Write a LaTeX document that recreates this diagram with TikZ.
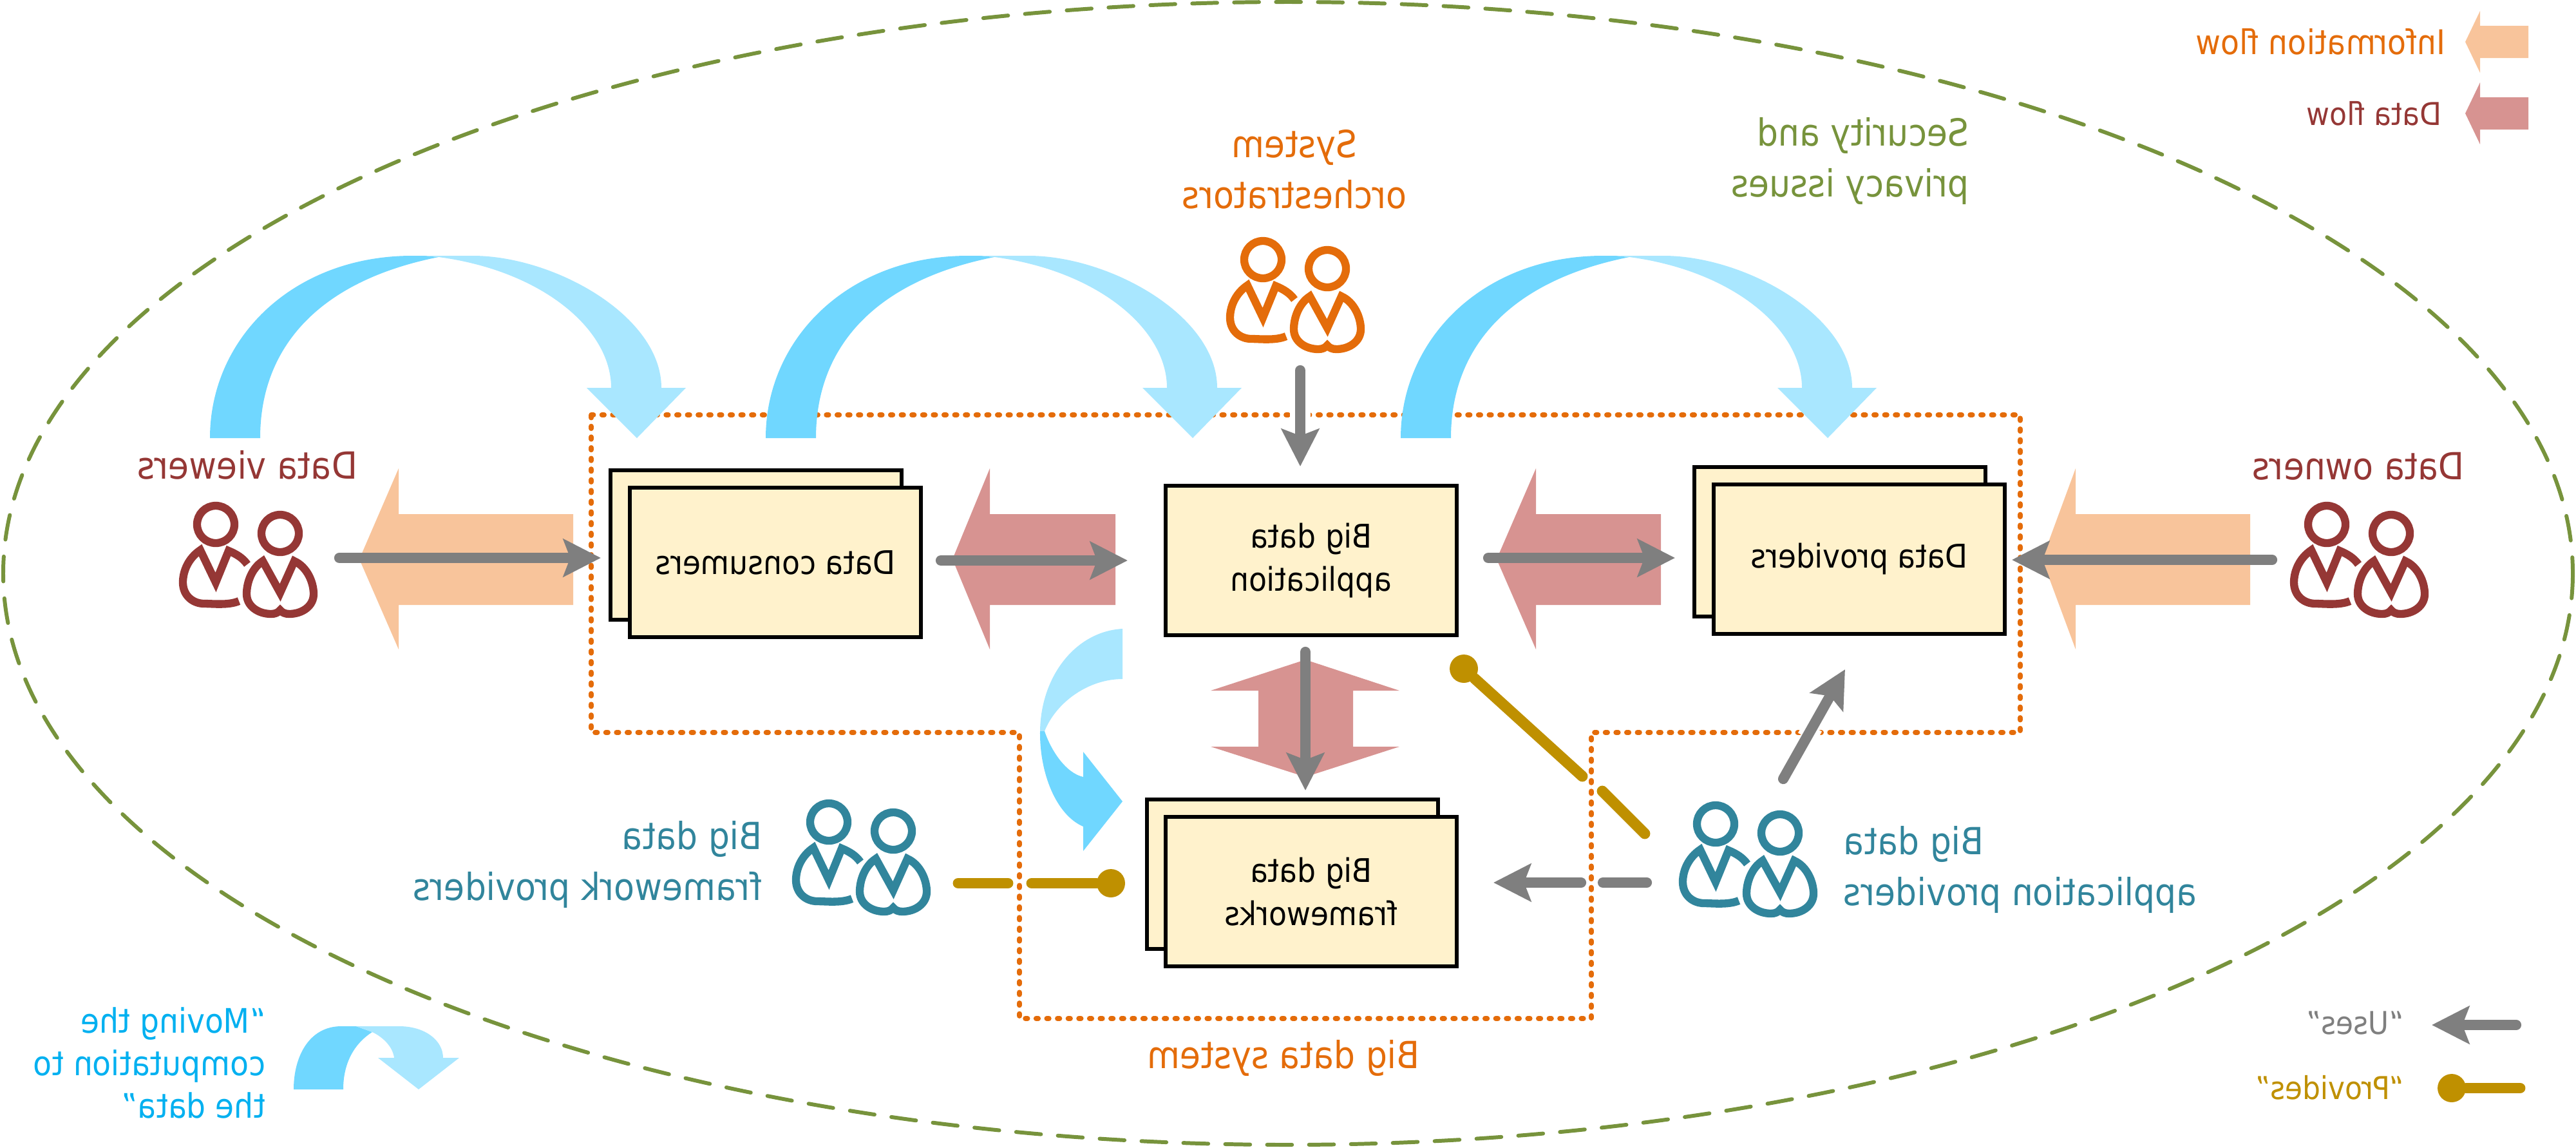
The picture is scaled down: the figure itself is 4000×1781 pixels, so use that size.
\documentclass[tikz,border=0pt]{standalone}
\usepackage{fontspec}
\setmainfont{DejaVu Sans Condensed}
\usetikzlibrary{arrows.meta}

\definecolor{infotext}{HTML}{E46C0A}
\definecolor{infofill}{HTML}{F8C49B}
\definecolor{datatext}{HTML}{953735}
\definecolor{datafill}{HTML}{D79391}
\definecolor{secgreen}{HTML}{77933C}
\definecolor{provteal}{HTML}{31859C}
\definecolor{provgold}{HTML}{BF9000}
\definecolor{usesgray}{HTML}{7F7F7F}
\definecolor{boxfill}{HTML}{FFF2CC}
\definecolor{hopdark}{HTML}{70D7FF}
\definecolor{hoplight}{HTML}{A9E7FF}
\definecolor{hoptext}{HTML}{00B0F0}

\tikzset{
  flipped/.style={xscale=-1,inner sep=0pt,align=center},
  rolelabel/.style={flipped,font=\fontsize{16.5}{22.6}\selectfont},
  keylabel/.style={flipped,font=\fontsize{13.9}{18}\selectfont},
  bluebox/.style={flipped,draw=black,line width=1.7pt,fill=boxfill,minimum width=128.5pt,minimum height=66pt,font=\fontsize{14.4}{19}\selectfont},
  usesline/.style={usesgray,line width=4.6pt,line cap=round},
  uses/.style={usesline,-{Stealth[length=16.5pt,width=16.5pt,inset=3pt]}},
  provides/.style={provgold,line width=4.8pt,line cap=round},
  provdot/.style={circle,fill=provgold,inner sep=0pt,minimum size=12.5pt},
  halo/.style={white,line width=9pt},
  crowd/.pic={
    % person behind
    \draw[line width=3.5pt] (0,0) ellipse [x radius=29,y radius=29];
    \draw[line width=3.5pt] (49,62) .. controls (42,52) and (32,46) .. (20,41) -- (0,90) -- (-24,40)
      .. controls (-42,52) and (-51,72) .. (-51,90) .. controls (-51,111) and (-35,123) .. (-18,123)
      .. controls (-5,123) and (20,126) .. (36,119);
    % person in front
    \draw[line width=3.5pt] (100,14) ellipse [x radius=29,y radius=29];
    \begin{scope}[shift={(100,14)}]
    \draw[line width=3.5pt] (-27,43) -- (0,92) -- (22,43) .. controls (42,52) and (52,76) .. (52,94)
      .. controls (52,113) and (34,125) .. (14,125) .. controls (8,125) and (3,123) .. (0,119)
      .. controls (-3,123) and (-8,125) .. (-14,125) .. controls (-34,125) and (-52,113) .. (-52,94)
      .. controls (-52,76) and (-44,54) .. (-27,43) -- cycle;
    \end{scope}
  },
  hoparc/.pic={
    \fill[hopdark] (326,680) .. controls (326,525) and (455,397) .. (640,397) -- (660,397) -- (681,399)
      .. controls (500,435) and (404,535) .. (404,680) -- cycle;
    \fill[hoplight] (660,397) -- (734,397) .. controls (860,397) and (1027,490) .. (1027,602)
      -- (1065,602) -- (989,680) -- (911,602) -- (949,602)
      .. controls (949,510) and (840,420) .. (681,399) -- cycle;
  },
}

\begin{document}
\begin{tikzpicture}[x=0.01cm,y=-0.01cm]
\useasboundingbox (0,0) rectangle (4000,1781);

% security ellipse and system outline
\draw[secgreen,line width=1.7pt,line cap=round,dash pattern=on 11pt off 7.5pt] (2000,890) ellipse [x radius=1995,y radius=887];
\draw[infotext,line width=2.2pt,line cap=round,dash pattern=on 1pt off 3.72pt] (918,644) -- (3137,644) -- (3137,1137) -- (2471,1137) -- (2471,1581) -- (1583,1581) -- (1583,1137) -- (918,1137) -- cycle;

% flows
\foreach \tipx/\basex/\tailx/\flowcol in {558/619/890/infofill,1479/1537/1732/datafill,2324/2385/2579/datafill,3171/3223/3494/infofill} {
  \fill[\flowcol] (\tipx,868) -- (\basex,727) -- (\basex,798) -- (\tailx,798) -- (\tailx,939) -- (\basex,939) -- (\basex,1008) -- cycle;
}
\fill[datafill] (2027,1024) -- (2173,1072) -- (2101,1072) -- (2101,1159) -- (2173,1159) -- (2027,1206) -- (1880,1159) -- (1954,1159) -- (1954,1072) -- (1880,1072) -- cycle;
\foreach \keyy/\flowcol in {65/infofill,176/datafill} {
  \fill[\flowcol] (3828,\keyy) -- (3851,\keyy-48) -- (3851,\keyy-25) -- (3926,\keyy-25) -- (3926,\keyy+25) -- (3851,\keyy+25) -- (3851,\keyy+48) -- cycle;
}

% boxes
\node[bluebox] (consumersback) at (1174,846) {};
\node[bluebox] (consumers) at (1204,873) {Data consumers};
\node[bluebox] (application) at (2036,870) {Big data\\application};
\node[bluebox] (providersback) at (2857,841) {};
\node[bluebox] (providers) at (2887,868) {Data providers};
\node[bluebox] (frameworksback) at (2007,1357) {};
\node[bluebox] (frameworks) at (2036,1384) {Big data\\frameworks};

% moving the computation
\foreach \hopx in {0,863,1849} {
  \pic at (\hopx,0) {hoparc};
}
\fill[hoplight] (1743,976) .. controls (1670,980) and (1616,1050) .. (1615,1135) -- (1622,1135) .. controls (1640,1090) and (1690,1054) .. (1743,1054) -- cycle;
\fill[hopdark] (1615,1135) .. controls (1614,1200) and (1640,1265) .. (1682,1283) -- (1682,1321) -- (1743,1244) -- (1682,1167) -- (1682,1206) .. controls (1655,1200) and (1632,1165) .. (1622,1135) -- cycle;
\fill[hopdark] (456,1691) .. controls (456,1640) and (480,1593) .. (530,1593) -- (553,1593) -- (578,1602) .. controls (550,1620) and (533,1650) .. (533,1691) -- cycle;
\fill[hoplight] (553,1593) -- (620,1593) .. controls (660,1593) and (688,1615) .. (688,1642) -- (713,1642) -- (650,1691) -- (587,1642) -- (612,1642) .. controls (610,1625) and (595,1610) .. (578,1602) -- cycle;

% people
\pic[color=datatext] at (335,814) {crowd};
\pic[color=datatext] at (3613,814) {crowd};
\pic[color=infotext] at (1961,403) {crowd};
\pic[color=provteal] at (1287,1276) {crowd};
\pic[color=provteal] at (2664,1279) {crowd};

% ends of the connectors
\coordinate (viewersout) at (527,866);
\coordinate (consumersin) at (933,866);
\coordinate (consumersout) at (1461,870);
\coordinate (applicationin) at (1751,870);
\coordinate (applicationout) at (2311,866);
\coordinate (providersin) at (2601,866);
\coordinate (ownersout) at (3528,869);
\coordinate (ownersin) at (3124,869);
\coordinate (orchout) at (2019,575);
\coordinate (orchin) at (2019,724);
\coordinate (stackout) at (2027,1012);
\coordinate (stackin) at (2027,1227);
\coordinate (appprovout) at (2769,1209);
\coordinate (appprovin) at (2865,1039);
\coordinate (frameout) at (2557,1370);
\coordinate (framegapa) at (2489,1370);
\coordinate (framegapb) at (2455,1370);
\coordinate (framein) at (2319,1370);
\coordinate (halotopa) at (2019,630);
\coordinate (halotopb) at (2019,660);
\coordinate (halosidea) at (2806,1145);
\coordinate (halosideb) at (2815,1128);
\coordinate (keyusesout) at (3907,1591);
\coordinate (keyusesin) at (3776,1591);
\coordinate (appstart) at (2554,1294);
\coordinate (appgapa) at (2488,1228);
\coordinate (appgapb) at (2457,1205);
\coordinate (fpstart) at (1488,1371);
\coordinate (fpgapa) at (1565,1371);
\coordinate (fpgapb) at (1602,1371);
\coordinate (keyprovout) at (3913,1689);

\node[provdot] (appdot) at (2273,1038) {};
\node[provdot] (framedot) at (1725,1371) {};
\node[provdot] (keydot) at (3807,1689) {};

% uses
\draw[halo] (halotopa) -- (halotopb);
\draw[halo] (halosidea) -- (halosideb);
\draw[uses] (viewersout) -- (consumersin);
\draw[uses] (consumersout) -- (applicationin);
\draw[uses] (applicationout) -- (providersin);
\draw[uses] (ownersout) -- (ownersin);
\draw[uses] (orchout) -- (orchin);
\draw[uses] (stackout) -- (stackin);
\draw[uses] (appprovout) -- (appprovin);
\draw[usesline] (frameout) -- (framegapa);
\draw[uses] (framegapb) -- (framein);
\draw[uses] (keyusesout) -- (keyusesin);

% provides
\draw[provides] (appstart) -- (appgapa);
\draw[provides] (appgapb) -- (appdot);
\draw[provides] (fpstart) -- (fpgapa);
\draw[provides] (fpgapb) -- (framedot);
\draw[provides] (keyprovout) -- (keydot);

% labels
\node[rolelabel,text=datatext] (viewerslabel) at (384,722) {Data viewers};
\node[rolelabel,text=datatext] (ownerslabel) at (3662,724) {Data owners};
\node[rolelabel,text=infotext] (orchlabel) at (2010,263) {System\\orchestrators};
\node[rolelabel,text=secgreen,anchor=west,align=left] (seclabel) at (3058,250) {Security and\\privacy issues};
\node[rolelabel,text=provteal,anchor=east,align=right] (appprovlabel) at (2862,1350) {Big data\\application providers};
\node[rolelabel,text=provteal,anchor=west,align=left] (fplabel) at (1184,1342) {Big data\\framework providers};
\node[rolelabel,text=infotext] (systemlabel) at (1993,1642) {Big data system};
\node[keylabel,text=infotext,anchor=west,font=\fontsize{15}{18}\selectfont] (infokey) at (3798,65) {Information flow};
\node[keylabel,text=datatext,anchor=west] (datakey) at (3792,176) {Data flow};
\node[keylabel,text=usesgray,anchor=west] (useskey) at (3733,1588) {“Uses”};
\node[keylabel,text=provgold,anchor=west] (provkey) at (3733,1688) {“Provides”};
\node[flipped,text=hoptext,anchor=west,align=left,font=\fontsize{14.9}{18.7}\selectfont] (hopkey) at (413,1650) {“Moving the\\computation to\\the data”};
\end{tikzpicture}
\end{document}
